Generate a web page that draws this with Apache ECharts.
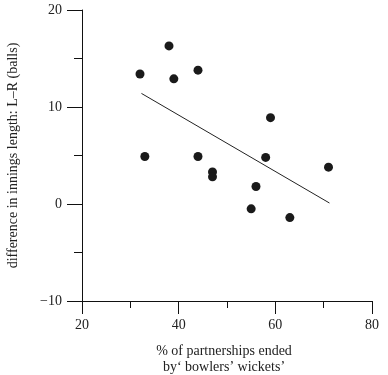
<!DOCTYPE html>
<html lang="en">
<head>
    <meta charset="UTF-8">
    <title>Innings length vs bowlers' wickets</title>
    <script src="https://cdn.jsdelivr.net/npm/echarts@6/dist/echarts.min.js"></script>
    <style>
        html, body { margin: 0; padding: 0; background: #fff; }
    </style>
</head>
<body>
    <div id="chart" style="width: 388px; height: 375px;"></div>
    <script>
        // points: % of partnerships ended by bowlers' wickets, difference L-R (balls)
        var pctEnded = [32, 38, 39, 44, 33, 44, 47, 47, 59, 58, 56, 55, 63, 71];
        var diffLR = [13.4, 16.3, 12.9, 13.8, 4.9, 4.9, 3.3, 2.8, 8.9, 4.8, 1.8, -0.5, -1.4, 3.8];

        // fitted line end points
        var fitX = [32.3, 71.2];
        var fitY = [11.4, 0.1];

        var xTicks = [20, 40, 60, 80];
        var yTicks = [-10, 0, 10, 20];

        var font = 'Liberation Serif, Times New Roman, serif';
        var chart = echarts.init(document.getElementById('chart'));

        var option = {
            animation: false,
            grid: { left: 82, right: 16, top: 10, bottom: 74, outerBoundsMode: 'none' },
            xAxis: {
                type: 'value',
                min: xTicks[0],
                max: xTicks[xTicks.length - 1],
                interval: 20,
                name: '% of partnerships ended\nby\u2018 bowlers\u2019 wickets\u2019',
                nameLocation: 'middle',
                nameGap: 42,
                nameTextStyle: { fontFamily: font, fontSize: 14, color: '#222', lineHeight: 16, padding: [0, 6, 0, 0] },
                axisLine: { onZero: false, lineStyle: { color: '#111', width: 1 } },
                axisTick: { show: true, inside: false, length: 13, lineStyle: { color: '#111' } },
                minorTick: { show: true, splitNumber: 2, length: 7, lineStyle: { color: '#111' } },
                axisLabel: { fontFamily: font, fontSize: 14, color: '#222', margin: 17 },
                splitLine: { show: false }
            },
            yAxis: {
                type: 'value',
                min: yTicks[0],
                max: yTicks[yTicks.length - 1],
                interval: 10,
                name: 'difference in innings length: L\u2013R (balls)',
                nameLocation: 'middle',
                nameGap: 62,
                nameTextStyle: { fontFamily: font, fontSize: 14, color: '#222' },
                axisLine: { show: true, onZero: false, lineStyle: { color: '#111', width: 1 } },
                axisTick: { show: true, inside: false, length: 15, lineStyle: { color: '#111' } },
                minorTick: { show: true, splitNumber: 2, length: 8, lineStyle: { color: '#111' } },
                axisLabel: {
                    fontFamily: font, fontSize: 14, color: '#222', margin: 20,
                    formatter: function (v) { return String(v).replace('-', '\u2212'); }
                },
                splitLine: { show: false }
            },
            series: [
                {
                    type: 'scatter',
                    data: pctEnded.map(function (x, i) { return [x, diffLR[i]]; }),
                    symbolSize: 9,
                    itemStyle: { color: '#1a1a1a', opacity: 1 }
                },
                {
                    type: 'line',
                    data: fitX.map(function (x, i) { return [x, fitY[i]]; }),
                    symbol: 'none',
                    lineStyle: { color: '#222', width: 1 }
                }
            ]
        };
        chart.setOption(option);
    </script>
</body>
</html>
